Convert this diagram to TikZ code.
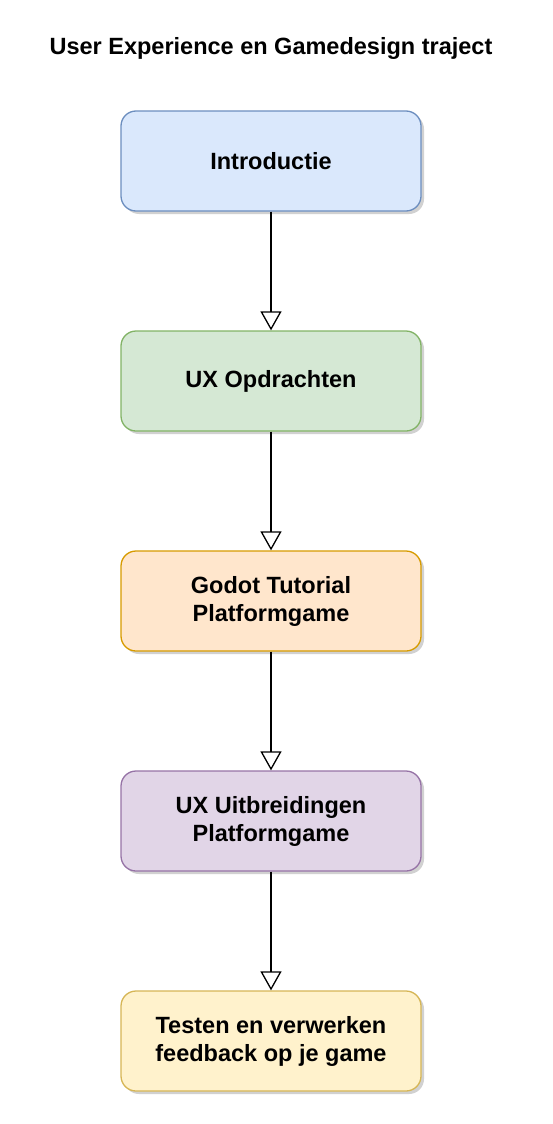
\documentclass[tikz,border=0pt]{standalone}
\usepackage{fontspec}
\setmainfont{Liberation Sans}
\usetikzlibrary{arrows.meta,shadows,positioning}

\definecolor{introfill}{HTML}{DAE8FC}
\definecolor{introline}{HTML}{6C8EBF}
\definecolor{uxfill}{HTML}{D5E8D4}
\definecolor{uxline}{HTML}{82B366}
\definecolor{godotfill}{HTML}{FFE6CC}
\definecolor{godotline}{HTML}{D79B00}
\definecolor{extfill}{HTML}{E1D5E7}
\definecolor{extline}{HTML}{9673A6}
\definecolor{testfill}{HTML}{FFF2CC}
\definecolor{testline}{HTML}{D6B656}

\tikzset{
  stepbox/.style={draw, rounded corners=15, minimum width=300, minimum height=100,
    line width=1.3, align=center, text=black,
    font=\bfseries\fontsize{23.5}{28}\selectfont,
    drop shadow={shadow xshift=3pt, shadow yshift=-3pt, opacity=0.18, fill=black}},
  flow/.style={draw, line width=1.3,
    -{Triangle[open, length=19, width=21, fill=white, line width=1.3]}}
}

\begin{document}
\begin{tikzpicture}[x=1pt, y=1pt, node distance=220, on grid]
  \useasboundingbox (0,0) rectangle (552,-1124);

  % Drawing title
  \node [font=\bfseries\fontsize{23.5}{28}\selectfont] (title) at (271,-48) {User Experience en Gamedesign traject};

  % Drawing steps
  \node [stepbox, fill=introfill, draw=introline] (intro) at (271,-161) {Introductie};
  \node [stepbox, fill=uxfill, draw=uxline, below=of intro] (opdr) {UX Opdrachten};
  \node [stepbox, fill=godotfill, draw=godotline, below=of opdr] (godot) {Godot Tutorial\\Platformgame};
  \node [stepbox, fill=extfill, draw=extline, below=of godot] (uitbr) {UX Uitbreidingen\\Platformgame};
  \node [stepbox, fill=testfill, draw=testline, below=of uitbr] (testen) {Testen en verwerken\\feedback op je game};

  % Drawing connectors
  \draw [flow] (intro) -- (opdr);
  \draw [flow] (opdr) -- (godot);
  \draw [flow] (godot) -- (uitbr);
  \draw [flow] (uitbr) -- (testen);
\end{tikzpicture}
\end{document}
